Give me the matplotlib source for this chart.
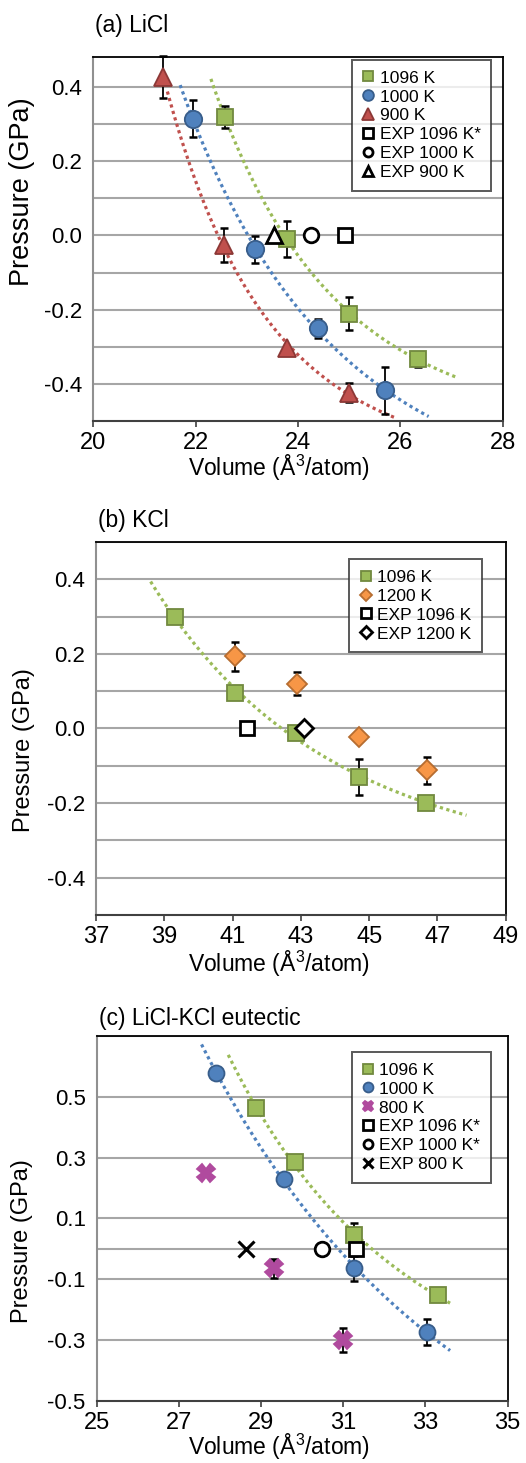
import matplotlib.pyplot as plt
import numpy as np

plt.rcParams["font.family"] = ["Liberation Sans", "DejaVu Sans"]
plt.rcParams["mathtext.fontset"] = "custom"
plt.rcParams["mathtext.rm"] = "Liberation Sans"

# ---- (a) LiCl ----
a_v1096 = [22.57, 23.79, 25.00, 26.34]
a_p1096 = [0.319, -0.010, -0.210, -0.333]
a_e1096 = [0.030, 0.048, 0.045, 0.020]
a_v1000 = [21.95, 23.16, 24.39, 25.69]
a_p1000 = [0.314, -0.037, -0.250, -0.417]
a_e1000 = [0.050, 0.036, 0.026, 0.063]
a_v900 = [21.37, 22.55, 23.79, 25.00]
a_p900 = [0.427, -0.025, -0.302, -0.423]
a_e900 = [0.057, 0.046, 0.0, 0.025]
a_exp_v = [24.91, 24.25, 23.53]   # EXP 1096, 1000, 900
a_fit_range = {"1096": (22.3, 27.1), "1000": (21.7, 26.55), "900": (21.45, 25.9)}

# ---- (b) KCl ----
b_v1096 = [39.31, 41.08, 42.85, 44.71, 46.66]
b_p1096 = [0.299, 0.094, -0.013, -0.130, -0.200]
b_e1096 = [0.0, 0.0, 0.0, 0.048, 0.0]
b_v1200 = [41.07, 42.89, 44.71, 46.70]
b_p1200 = [0.193, 0.120, -0.022, -0.112]
b_e1200 = [0.038, 0.030, 0.0, 0.036]
b_exp_v = [41.43, 43.10]   # EXP 1096, 1200
b_fit_range = (38.6, 47.85)

# ---- (c) LiCl-KCl eutectic ----
c_v1096 = [28.87, 29.82, 31.25, 33.30]
c_p1096 = [0.464, 0.286, 0.044, -0.152]
c_e1096 = [0.0, 0.0, 0.040, 0.0]
c_v1000 = [27.91, 29.55, 31.25, 33.04]
c_p1000 = [0.577, 0.231, -0.064, -0.273]
c_e1000 = [0.0, 0.0, 0.040, 0.044]
c_v800 = [27.67, 29.31, 30.99]
c_p800 = [0.249, -0.064, -0.300]
c_e800 = [0.0, 0.032, 0.040]
c_exp_v = [31.30, 30.49, 28.64]   # EXP 1096, 1000, 800
c_fit_range = {"1096": (28.2, 33.6), "1000": (27.55, 33.6)}

GREEN, GREEN_E = "#9bbb59", "#71893f"
BLUE, BLUE_E = "#4f81bd", "#385d8a"
RED, RED_E = "#c0504d", "#8c3836"
ORANGE, ORANGE_E = "#f79646", "#b66d31"
MAG = "#b04a9e"
GRID = "#a6a6a6"


def trend(ax, x, y, rng, color):
    # P = a*V^-n + b, n picked by least squares
    x = np.asarray(x); y = np.asarray(y)
    best = None
    for n in np.linspace(0.5, 30, 296):
        A = np.column_stack([x ** -n, np.ones_like(x)])
        coef, res, *_ = np.linalg.lstsq(A, y, rcond=None)
        r = np.sum((A @ coef - y) ** 2)
        if best is None or r < best[0]:
            best = (r, n, coef)
    _, n, coef = best
    xx = np.linspace(rng[0], rng[1], 100)
    ax.plot(xx, coef[0] * xx ** -n + coef[1], color=color, lw=2.3,
            linestyle=(0, (1, 1.1)), zorder=2)


def pts(ax, x, y, e, marker, fc, ec, ms, label):
    eb = ax.errorbar(x, y, yerr=e, fmt="none", ecolor="black", elinewidth=1.3,
                     capsize=3, capthick=1.8, zorder=3)
    for art in eb.lines[1] + eb.lines[2]:
        art.set_clip_on(False)
    ax.plot(x, y, linestyle="none", marker=marker, mfc=fc, mec=ec, ms=ms,
            mew=1.3, zorder=4, label=label, clip_on=False)


def exp_pt(ax, v, marker, ms, label):
    ax.plot([v], [0], marker=marker, mfc="white", mec="black", mew=2, ms=ms,
            ls="none", zorder=4, label=label)


def style(ax, xlim, ylim, grid, ticks, title, title_y, ylab_size, ylab_xy, xlab_xy):
    ax.set_xlim(*xlim)
    ax.set_ylim(*ylim)
    for g in grid:
        ax.axhline(g, color=GRID, lw=1.5, zorder=1)
    ax.set_yticks(ticks)
    ax.set_yticklabels([f"{t:.1f}" for t in ticks])
    ax.set_xticks(np.arange(xlim[0], xlim[1] + 0.1, 2))
    ax.tick_params(axis="x", labelsize=17, length=4, width=1.2, color="#404040", pad=4)
    ax.tick_params(axis="y", labelsize=16, length=0, pad=8)
    for s in ["top", "right"]:
        ax.spines[s].set_color("black")
        ax.spines[s].set_linewidth(1.3)
    ax.spines["left"].set_color("#909090")
    ax.spines["left"].set_linewidth(1.5)
    ax.spines["bottom"].set_color("#404040")
    ax.spines["bottom"].set_linewidth(1.5)
    ax.set_xlabel("Volume (Å$^3$/atom)", fontsize=16.5, va="baseline")
    ax.xaxis.set_label_coords(*xlab_xy)
    ax.set_ylabel("Pressure (GPa)", fontsize=ylab_size)
    ax.yaxis.set_label_coords(*ylab_xy)
    ax.text(0.005, title_y, title, transform=ax.transAxes, fontsize=16.5,
            ha="left", va="baseline")


def legend(ax, anchor):
    leg = ax.legend(loc="upper right", bbox_to_anchor=anchor, fontsize=12.5,
                    frameon=True, fancybox=False, edgecolor="#303030",
                    handlelength=0.7, handletextpad=0.3, labelspacing=0.22,
                    borderpad=0.6, borderaxespad=0, markerscale=0.62)
    leg.get_frame().set_linewidth(1.4)
    leg.set_zorder(5)


fig = plt.figure(figsize=(5.26, 14.63), dpi=100)

# (a)
ax = fig.add_axes([0.177, 0.712, 0.779, 0.249])
style(ax, (20, 28), (-0.5, 0.48), np.arange(-0.4, 0.45, 0.1), [-0.4, -0.2, 0.0, 0.2, 0.4],
      "(a) LiCl", 1.069, 19.5, (-0.141, 0.63), (0.454, -0.151))
trend(ax, a_v1096, a_p1096, a_fit_range["1096"], GREEN)
trend(ax, a_v1000, a_p1000, a_fit_range["1000"], BLUE)
trend(ax, a_v900, a_p900, a_fit_range["900"], RED)
pts(ax, a_v1096, a_p1096, a_e1096, "s", GREEN, GREEN_E, 12, "1096 K")
pts(ax, a_v1000, a_p1000, a_e1000, "o", BLUE, BLUE_E, 12.5, "1000 K")
pts(ax, a_v900, a_p900, a_e900, "^", RED, RED_E, 13, "900 K")
exp_pt(ax, a_exp_v[0], "s", 10.5, "EXP 1096 K*")
exp_pt(ax, a_exp_v[1], "o", 10.5, "EXP 1000 K")
exp_pt(ax, a_exp_v[2], "^", 11, "EXP 900 K")
legend(ax, (0.971, 0.992))

# (b)
ax = fig.add_axes([0.1825, 0.3746, 0.779, 0.255])
style(ax, (37, 49), (-0.5, 0.5), np.arange(-0.4, 0.55, 0.1), [-0.4, -0.2, 0.0, 0.2, 0.4],
      "(b) KCl", 1.04, 17, (-0.149, 0.442), (0.446, -0.153))
trend(ax, b_v1096, b_p1096, b_fit_range, GREEN)
pts(ax, b_v1096, b_p1096, b_e1096, "s", GREEN, GREEN_E, 11, "1096 K")
pts(ax, b_v1200, b_p1200, b_e1200, "D", ORANGE, ORANGE_E, 10.5, "1200 K")
exp_pt(ax, b_exp_v[0], "s", 10.5, "EXP 1096 K")
exp_pt(ax, b_exp_v[1], "D", 9.5, "EXP 1200 K")
legend(ax, (0.941, 0.954))

# (c)
ax = fig.add_axes([0.184, 0.0424, 0.781, 0.2495])
style(ax, (25, 35), (-0.5, 0.7), [-0.3, -0.1, 0.0, 0.1, 0.3, 0.5, 0.7],
      [-0.5, -0.3, -0.1, 0.1, 0.3, 0.5], "(c) LiCl-KCl eutectic", 1.03, 17,
      (-0.156, 0.438), (0.443, -0.148))
trend(ax, c_v1096, c_p1096, c_fit_range["1096"], GREEN)
trend(ax, c_v1000, c_p1000, c_fit_range["1000"], BLUE)
pts(ax, c_v1096, c_p1096, c_e1096, "s", GREEN, GREEN_E, 11.5, "1096 K")
pts(ax, c_v1000, c_p1000, c_e1000, "o", BLUE, BLUE_E, 11.5, "1000 K")
pts(ax, c_v800, c_p800, c_e800, "X", MAG, MAG, 12.5, "800 K")
exp_pt(ax, c_exp_v[0], "s", 10.5, "EXP 1096 K*")
exp_pt(ax, c_exp_v[1], "o", 10.5, "EXP 1000 K*")
ax.plot([c_exp_v[2]], [0], "x", color="black", mew=2.2, ms=11, ls="none", zorder=4,
        label="EXP 800 K")
legend(ax, (0.959, 0.956))

fig.savefig("out.png", dpi=100, facecolor="white")
